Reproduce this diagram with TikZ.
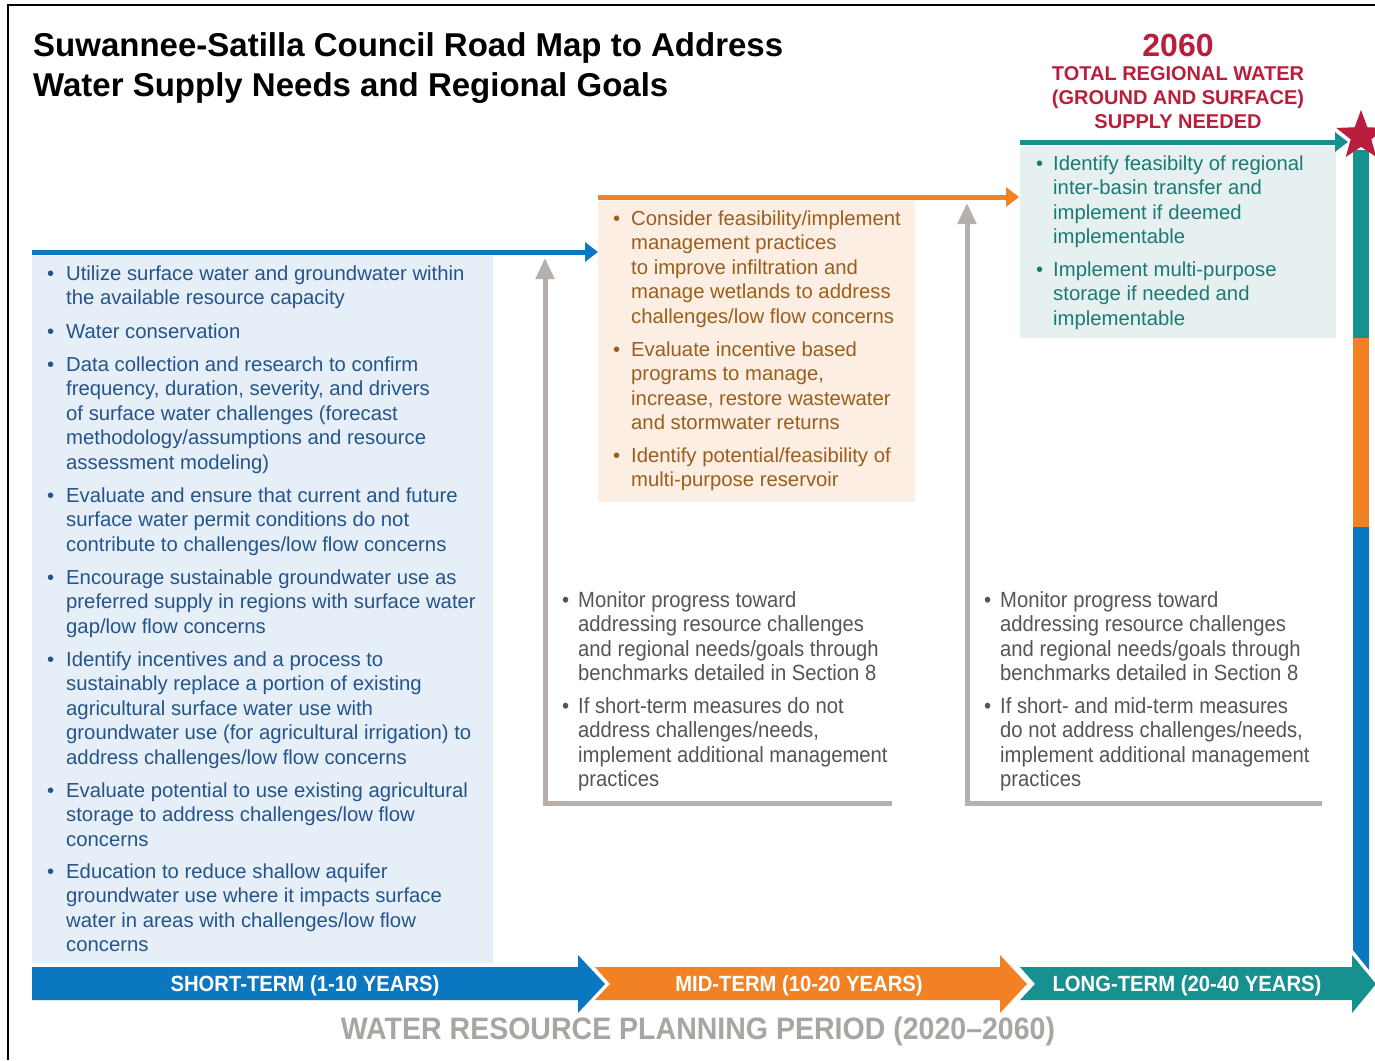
\documentclass[tikz,border=0pt]{standalone}
\usepackage{fontspec}
\setmainfont{Liberation Sans}
\newfontfamily\narrowfont[FakeStretch=0.92]{Liberation Sans}
\usetikzlibrary{arrows.meta,shapes.geometric}
\definecolor{cblue}{HTML}{0B77C0}
\definecolor{corange}{HTML}{F28123}
\definecolor{cteal}{HTML}{17918F}
\definecolor{cred}{HTML}{B91E3D}
\definecolor{cgrayline}{HTML}{B5B0AB}
\definecolor{cgraytitle}{HTML}{A9A5A1}
\definecolor{tblue}{HTML}{24548A}
\definecolor{torange}{HTML}{9A5F1C}
\definecolor{tteal}{HTML}{1C7A72}
\definecolor{tgray}{HTML}{555555}
\definecolor{fblue}{HTML}{E6EFF8}
\definecolor{forange}{HTML}{FDEEE4}
\definecolor{fteal}{HTML}{E6F0F0}
\newcommand\bitem[2]{\begin{tabular}[t]{@{}l@{}l@{}}\makebox[#1][l]{\textbullet}&#2\end{tabular}}
\tikzset{
  txt/.style={anchor=base west, inner sep=0pt, font=\fontsize{20.3}{24.5}\selectfont},
  bluetxt/.style={txt, text=tblue},
  orangetxt/.style={txt, text=torange},
  tealtxt/.style={txt, text=tteal},
  graytxt/.style={txt, text=tgray, font=\narrowfont\fontsize{22}{24.5}\selectfont},
  panel/.style={anchor=north west, inner sep=0pt, draw=none},
  topline/.style={line width=5pt, -{Triangle[length=13pt,width=19pt]}},
  grayarrow/.style={line width=5pt, draw=cgrayline, line join=miter, -{Triangle[length=21pt,width=18pt]}},
  barlabel/.style={anchor=base, inner sep=0pt, text=white, font=\narrowfont\bfseries\fontsize{22}{24}\selectfont},
}
\begin{document}
\begin{tikzpicture}[x=1pt,y=-1pt]
\useasboundingbox (0,0) rectangle (1375,1060);
\fill[white] (0,0) rectangle (1375,1060);
% frame
\draw[line width=2pt] (8,1060) -- (8,5) -- (1375,5);

% panels
\node[panel, fill=fblue, minimum width=461pt, minimum height=707pt] (bpanel) at (32,256) {};
\node[panel, fill=forange, minimum width=317pt, minimum height=301pt] (opanel) at (598,201) {};
\node[panel, fill=fteal, minimum width=316pt, minimum height=191pt] (tpanel) at (1020,147) {};

% top timeline arrows
\coordinate (bS) at (32,252);
\coordinate (bE) at (598,252);
\coordinate (oS) at (598,197);
\coordinate (oE) at (1019,197);
\coordinate (tS) at (1020,142);
\coordinate (tE) at (1348,142);
\draw[topline, draw=cblue, fill=cblue] (bS) -- (bE);
\draw[topline, draw=corange, fill=corange] (oS) -- (oE);
\draw[topline, draw=cteal, fill=cteal] (tS) -- (tE);

% gray arrows
\coordinate (g1end) at (892,803);
\coordinate (g1corner) at (545,803);
\coordinate (g1top) at (545,258);
\coordinate (g2end) at (1322,803);
\coordinate (g2corner) at (967,803);
\coordinate (g2top) at (967,203);
\draw[grayarrow] (g1end) -- (g1corner) -- (g1top);
\draw[grayarrow] (g2end) -- (g2corner) -- (g2top);

% right vertical bar
\fill[cteal] (1353,150) rectangle (1369,338);
\fill[corange] (1353,338) rectangle (1369,527);
\fill[cblue] (1353,527) -- (1369,527) -- (1369,970) -- (1353,950) -- cycle;
\node[star, star points=5, star point ratio=2.4, fill=cred, inner sep=0pt, minimum size=52pt] (star) at (1361,136) {};

% bottom arrows
\fill[cblue] (32,967) -- (578,967) -- (578,955) -- (605,984) -- (578,1013) -- (578,1000) -- (32,1000) -- cycle;
\fill[corange] (595,967) -- (1000,967) -- (1000,955) -- (1027,984) -- (1000,1013) -- (1000,1000) -- (595,1000) -- (610,984) -- cycle;
\fill[cteal] (1020,967) -- (1352,967) -- (1352,955) -- (1376,984) -- (1352,1013) -- (1352,1000) -- (1020,1000) -- (1035,984) -- cycle;
\node[barlabel] (lshort) at (305,991) {SHORT-TERM (1-10 YEARS)};
\node[barlabel] (lmid) at (799,991) {MID-TERM (10-20 YEARS)};
\node[barlabel] (llong) at (1187,991) {LONG-TERM (20-40 YEARS)};
\node[anchor=base, inner sep=0pt, text=cgraytitle, font=\narrowfont\bfseries\fontsize{31}{34}\selectfont] (period) at (698,1039) {WATER RESOURCE PLANNING PERIOD (2020–2060)};

% title
\node[anchor=base west, inner sep=0pt, font=\bfseries\fontsize{33}{40}\selectfont] (title) at (33,56)
  {\begin{tabular}[t]{@{}l@{}}Suwannee-Satilla Council Road Map to Address\\Water Supply Needs and Regional Goals\end{tabular}};
\node[anchor=base, inner sep=0pt, text=cred, font=\bfseries\fontsize{32}{36}\selectfont] (year) at (1178,56) {2060};
\node[anchor=base, inner sep=0pt, text=cred, font=\bfseries\fontsize{20}{24}\selectfont] (supply) at (1178,80)
  {\begin{tabular}[t]{@{}c@{}}TOTAL REGIONAL WATER\\(GROUND AND SURFACE)\\SUPPLY NEEDED\end{tabular}};

% blue items
\node[bluetxt] (b1) at (47,280) {\bitem{19pt}{Utilize surface water and groundwater within\\&the available resource capacity}};
\node[bluetxt] (b2) at (47,338) {\bitem{19pt}{Water conservation}};
\node[bluetxt] (b3) at (47,371) {\bitem{19pt}{Data collection and research to confirm\\&frequency, duration, severity, and drivers\\&of surface water challenges (forecast\\&methodology/assumptions and resource\\&assessment modeling)}};
\node[bluetxt] (b4) at (47,502) {\bitem{19pt}{Evaluate and ensure that current and future\\&surface water permit conditions do not\\&contribute to challenges/low flow concerns}};
\node[bluetxt] (b5) at (47,584) {\bitem{19pt}{Encourage sustainable groundwater use as\\&preferred supply in regions with surface water\\&gap/low flow concerns}};
\node[bluetxt] (b6) at (47,666) {\bitem{19pt}{Identify incentives and a process to\\&sustainably replace a portion of existing\\&agricultural surface water use with\\&groundwater use (for agricultural irrigation) to\\&address challenges/low flow concerns}};
\node[bluetxt] (b7) at (47,797) {\bitem{19pt}{Evaluate potential to use existing agricultural\\&storage to address challenges/low flow\\&concerns}};
\node[bluetxt] (b8) at (47,878) {\bitem{19pt}{Education to reduce shallow aquifer\\&groundwater use where it impacts surface\\&water in areas with challenges/low flow\\&concerns}};

% orange items
\node[orangetxt] (o1) at (613,225) {\bitem{18pt}{Consider feasibility/implement\\&management practices\\&to improve infiltration and\\&manage wetlands to address\\&challenges/low flow concerns}};
\node[orangetxt] (o2) at (613,356) {\bitem{18pt}{Evaluate incentive based\\&programs to manage,\\&increase, restore wastewater\\&and stormwater returns}};
\node[orangetxt] (o3) at (613,462) {\bitem{18pt}{Identify potential/feasibility of\\&multi-purpose reservoir}};

% teal items
\node[tealtxt] (t1) at (1036,170) {\bitem{17pt}{Identify feasibilty of regional\\&inter-basin transfer and\\&implement if deemed\\&implementable}};
\node[tealtxt] (t2) at (1036,276) {\bitem{17pt}{Implement multi-purpose\\&storage if needed and\\&implementable}};

% gray items
\node[graytxt] (g1) at (562,607) {\bitem{16pt}{Monitor progress toward\\&addressing resource challenges\\&and regional needs/goals through\\&benchmarks detailed in Section 8}};
\node[graytxt] (g2) at (562,713) {\bitem{16pt}{If short-term measures do not\\&address challenges/needs,\\&implement additional management\\&practices}};
\node[graytxt] (h1) at (984,607) {\bitem{16pt}{Monitor progress toward\\&addressing resource challenges\\&and regional needs/goals through\\&benchmarks detailed in Section 8}};
\node[graytxt] (h2) at (984,713) {\bitem{16pt}{If short- and mid-term measures\\&do not address challenges/needs,\\&implement additional management\\&practices}};
\end{tikzpicture}
\end{document}
